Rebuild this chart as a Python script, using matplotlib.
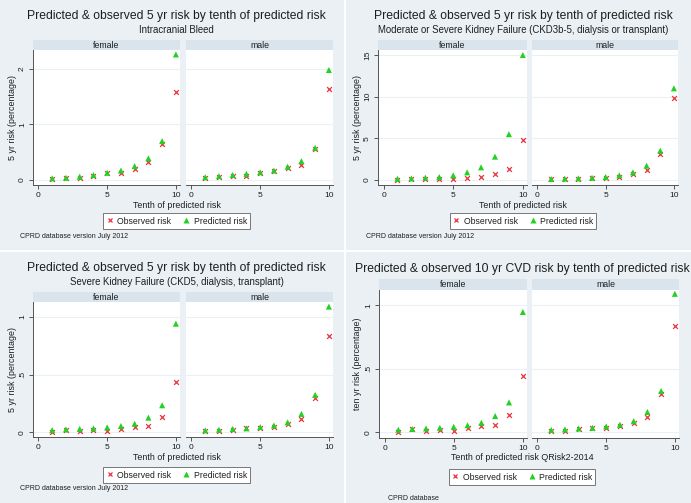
import matplotlib
matplotlib.use("Agg")
import matplotlib.pyplot as plt
from matplotlib.lines import Line2D
from matplotlib.patches import Rectangle
from matplotlib.ticker import FuncFormatter

W, H = 691, 503

BG_COLOR = "#EAF0F4"
STRIP_COLOR = "#D9E4EC"
GRID_COLOR = "#EAF0F4"
AXIS_COLOR = "#555555"
TEXT_COLOR = "#1E1E1E"
OBS_COLOR = "#E8323C"
PRED_COLOR = "#22D222"

tenths = [1, 2, 3, 4, 5, 6, 7, 8, 9, 10]

# Intracranial bleed (5 yr risk, %)
bleed_f_obs = [0.02, 0.03, 0.04, 0.08, 0.12, 0.12, 0.19, 0.33, 0.65, 1.58]
bleed_f_pred = [0.03, 0.04, 0.06, 0.09, 0.13, 0.17, 0.25, 0.39, 0.70, 2.26]
bleed_m_obs = [0.04, 0.06, 0.08, 0.08, 0.13, 0.17, 0.22, 0.27, 0.56, 1.64]
bleed_m_pred = [0.05, 0.07, 0.09, 0.11, 0.14, 0.17, 0.24, 0.34, 0.58, 1.98]

# Moderate or severe kidney failure (CKD3b-5)
ckd3_f_obs = [0.05, 0.07, 0.08, 0.10, 0.10, 0.20, 0.32, 0.68, 1.28, 4.80]
ckd3_f_pred = [0.15, 0.20, 0.28, 0.36, 0.56, 0.92, 1.52, 2.80, 5.50, 15.0]
ckd3_m_obs = [0.10, 0.13, 0.17, 0.22, 0.28, 0.40, 0.68, 1.24, 3.12, 9.88]
ckd3_m_pred = [0.12, 0.16, 0.20, 0.26, 0.36, 0.56, 0.92, 1.72, 3.52, 11.0]

# Severe kidney failure (CKD5)
ckd5_f_obs = [0.00, 0.025, 0.01, 0.02, 0.012, 0.03, 0.05, 0.058, 0.133, 0.438]
ckd5_f_pred = [0.02, 0.026, 0.03, 0.035, 0.043, 0.055, 0.075, 0.128, 0.235, 0.942]
ckd5_m_obs = [0.013, 0.013, 0.025, 0.035, 0.035, 0.05, 0.07, 0.12, 0.30, 0.838]
ckd5_m_pred = [0.018, 0.023, 0.03, 0.035, 0.046, 0.06, 0.087, 0.16, 0.325, 1.09]

# 10 yr CVD risk (QRisk2-2014)
cvd_f_obs = [0.00, 0.025, 0.01, 0.02, 0.012, 0.03, 0.05, 0.058, 0.133, 0.44]
cvd_f_pred = [0.02, 0.026, 0.03, 0.035, 0.043, 0.055, 0.075, 0.128, 0.235, 0.947]
cvd_m_obs = [0.013, 0.013, 0.025, 0.035, 0.035, 0.05, 0.07, 0.12, 0.30, 0.838]
cvd_m_pred = [0.018, 0.023, 0.03, 0.035, 0.046, 0.06, 0.087, 0.16, 0.325, 1.09]

plt.rcParams["font.family"] = ["Liberation Sans", "DejaVu Sans"]

fig = plt.figure(figsize=(W / 100, H / 100), dpi=100)
fig.patch.set_facecolor("white")


def fx(x):
    return x / W


def fy(y):
    return 1 - y / H


def pixel_axes(x0, y0, x1, y1):
    return fig.add_axes([fx(x0), fy(y1), (x1 - x0) / W, (y1 - y0) / H])


def stata_fmt(v, pos):
    s = f"{v:g}"
    if s.startswith("0."):
        s = s[1:]
    return s


def draw_panel(bg, cx, title, subtitle, title_y, sub_y, strip_y, plot_y,
               f_x, m_x, ylim, yticks, ylabel, ylabel_x, xlabel, xlabel_y,
               legend_y, note, note_xy, data):
    fig.patches.append(Rectangle((fx(bg[0]), fy(bg[3])), (bg[2] - bg[0]) / W,
                                 (bg[3] - bg[1]) / H, transform=fig.transFigure,
                                 facecolor=BG_COLOR, edgecolor="none", zorder=-5))
    fig.text(fx(cx), fy(title_y), title, ha="center", va="center",
             fontsize=8.7, color=TEXT_COLOR)
    if subtitle:
        fig.text(fx(cx), fy(sub_y), subtitle, ha="center", va="center",
                 fontsize=6.9, color=TEXT_COLOR)

    for i, (xs, label) in enumerate([(f_x, "female"), (m_x, "male")]):
        strip = pixel_axes(xs[0], strip_y[0], xs[1], strip_y[1])
        strip.set_facecolor(STRIP_COLOR)
        strip.set_xticks([])
        strip.set_yticks([])
        for sp in strip.spines.values():
            sp.set_visible(False)
        strip.text(0.5, 0.5, label, ha="center", va="center", fontsize=6.3,
                   color=TEXT_COLOR, transform=strip.transAxes)

        ax = pixel_axes(xs[0], plot_y[0], xs[1], plot_y[1])
        ax.set_facecolor("white")
        obs, pred = data[i]
        ax.scatter(tenths, obs, marker="x", s=12, color=OBS_COLOR,
                   linewidths=0.9, zorder=3)
        ax.scatter(tenths, pred, marker="^", s=19, color=PRED_COLOR,
                   edgecolors="none", zorder=4)
        ax.set_xlim(-0.4, 10.3)
        ax.set_ylim(*ylim)
        ax.set_xticks([0, 5, 10])
        ax.set_yticks(yticks)
        ax.yaxis.set_major_formatter(FuncFormatter(stata_fmt))
        ax.grid(axis="y", color=GRID_COLOR, linewidth=0.8)
        ax.set_axisbelow(True)
        for side in ["top", "right"]:
            ax.spines[side].set_visible(False)
        ax.spines["bottom"].set_color(AXIS_COLOR)
        ax.spines["bottom"].set_linewidth(0.7)
        ax.tick_params(axis="x", length=3, width=0.7, color=AXIS_COLOR,
                       labelsize=6, labelcolor=TEXT_COLOR, pad=2)
        if i == 0:
            ax.spines["left"].set_color(AXIS_COLOR)
            ax.spines["left"].set_linewidth(0.7)
            ax.tick_params(axis="y", length=3, width=0.7, color=AXIS_COLOR,
                           labelsize=6, labelcolor=TEXT_COLOR, pad=2)
            for t in ax.get_yticklabels():
                t.set_rotation(90)
                t.set_va("center")
        else:
            ax.spines["left"].set_visible(False)
            ax.tick_params(axis="y", length=0, labelleft=False)

    fig.text(fx(ylabel_x), fy((plot_y[0] + plot_y[1]) / 2), ylabel,
             rotation=90, ha="center", va="center", fontsize=6.4,
             color=TEXT_COLOR)
    fig.text(fx(cx), fy(xlabel_y), xlabel, ha="center", va="center",
             fontsize=6.4, color=TEXT_COLOR)

    handles = [
        Line2D([], [], marker="x", linestyle="none", color=OBS_COLOR,
               markersize=3.4, markeredgewidth=0.9, label="Observed risk"),
        Line2D([], [], marker="^", linestyle="none", color=PRED_COLOR,
               markeredgecolor="none", markersize=4.3, label="Predicted risk"),
    ]
    leg = fig.legend(handles=handles, loc="center", ncol=2,
                     bbox_to_anchor=(fx(cx), fy(legend_y)),
                     fontsize=6.2, frameon=True, fancybox=False,
                     handlelength=0.9, handletextpad=0.4, columnspacing=1.3,
                     borderpad=0.35, edgecolor="#777777", framealpha=1)
    leg.get_frame().set_linewidth(0.7)
    for t in leg.get_texts():
        t.set_color(TEXT_COLOR)

    fig.text(fx(note_xy[0]), fy(note_xy[1]), note, ha="left", va="center",
             fontsize=5, color=TEXT_COLOR)


draw_panel(bg=(0, 0, 344, 250), cx=176.5,
           title="Predicted & observed 5 yr risk by tenth of predicted risk",
           subtitle="Intracranial Bleed", title_y=16, sub_y=30,
           strip_y=(40, 50), plot_y=(50, 185), f_x=(33, 180), m_x=(186, 333),
           ylim=(-0.09, 2.34), yticks=[0, 1, 2],
           ylabel="5 yr risk (percentage)", ylabel_x=13,
           xlabel="Tenth of predicted risk", xlabel_y=205,
           legend_y=221, note="CPRD database version July 2012",
           note_xy=(20, 237),
           data=[(bleed_f_obs, bleed_f_pred), (bleed_m_obs, bleed_m_pred)])

draw_panel(bg=(346, 0, 691, 250), cx=523,
           title="Predicted & observed 5 yr risk by tenth of predicted risk",
           subtitle="Moderate or Severe Kidney Failure (CKD3b-5, dialysis or transplant)",
           title_y=16, sub_y=30,
           strip_y=(40, 50), plot_y=(50, 185), f_x=(378, 527), m_x=(532, 678),
           ylim=(-0.6, 15.6), yticks=[0, 5, 10, 15],
           ylabel="5 yr risk (percentage)", ylabel_x=358,
           xlabel="Tenth of predicted risk", xlabel_y=205,
           legend_y=221, note="CPRD database version July 2012",
           note_xy=(366, 237),
           data=[(ckd3_f_obs, ckd3_f_pred), (ckd3_m_obs, ckd3_m_pred)])

draw_panel(bg=(0, 252, 344, 503), cx=176.5,
           title="Predicted & observed 5 yr risk by tenth of predicted risk",
           subtitle="Severe Kidney Failure (CKD5, dialysis, transplant)",
           title_y=268, sub_y=282,
           strip_y=(292, 302), plot_y=(302, 437), f_x=(33, 180), m_x=(186, 333),
           ylim=(-0.04, 1.13), yticks=[0, 0.5, 1],
           ylabel="5 yr risk (percentage)", ylabel_x=13,
           xlabel="Tenth of predicted risk", xlabel_y=457,
           legend_y=475, note="CPRD database version July 2012",
           note_xy=(20, 488),
           data=[(ckd5_f_obs, ckd5_f_pred), (ckd5_m_obs, ckd5_m_pred)])

draw_panel(bg=(346, 252, 691, 503), cx=522,
           title="Predicted & observed 10 yr CVD risk by tenth of predicted risk",
           subtitle=None, title_y=269, sub_y=None,
           strip_y=(279, 290), plot_y=(290, 438), f_x=(379, 527), m_x=(532, 679),
           ylim=(-0.045, 1.12), yticks=[0, 0.5, 1],
           ylabel="ten yr risk (percentage)", ylabel_x=358,
           xlabel="Tenth of predicted risk QRisk2-2014", xlabel_y=457,
           legend_y=477, note="CPRD database", note_xy=(388, 498),
           data=[(cvd_f_obs, cvd_f_pred), (cvd_m_obs, cvd_m_pred)])

fig.savefig("out.png", dpi=100, facecolor=fig.get_facecolor())
